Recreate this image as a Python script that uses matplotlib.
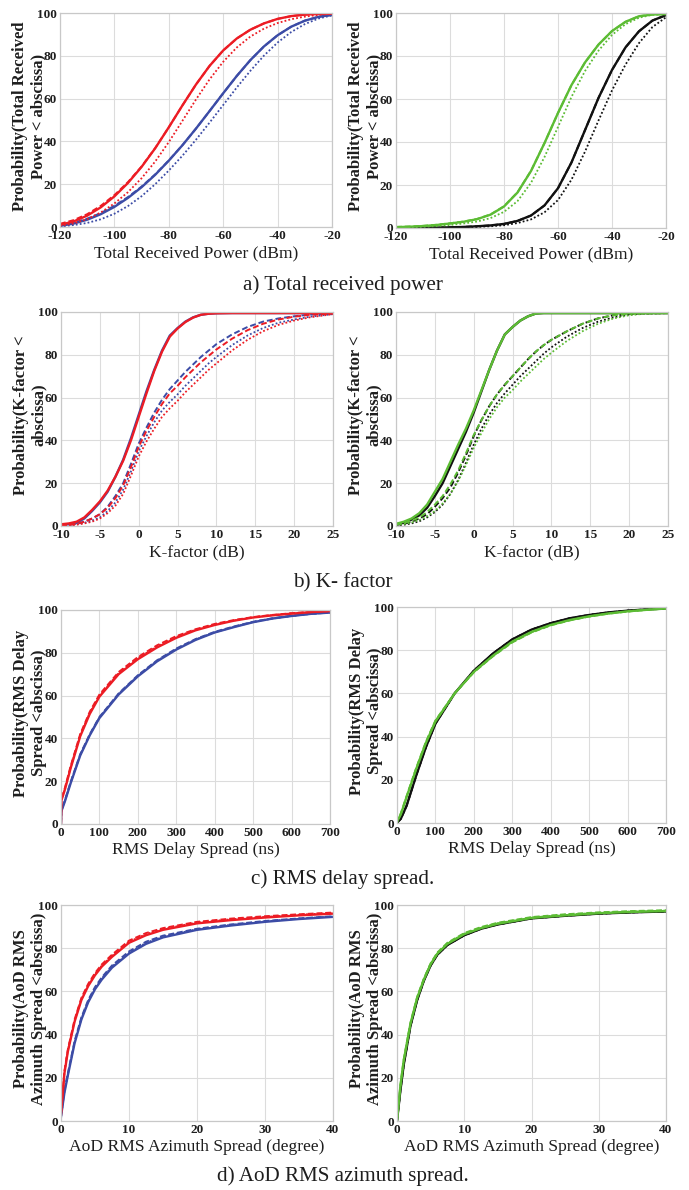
import matplotlib
matplotlib.use("Agg")
import matplotlib.pyplot as plt

plt.rcParams["axes.unicode_minus"] = False

# ---------------- data ----------------
# a) Total received power (dBm)
a_x = [-120, -115, -110, -105, -100, -95, -90, -85, -80, -75, -70, -65, -60, -55, -50, -45, -40, -35, -30, -25, -20]
a_red_solid  = [1.0, 2.6, 5.3, 9.2, 14.3, 20.6, 28.1, 36.8, 46.6, 56.8, 66.6, 75.3, 82.5, 88.1, 92.2, 95.15, 97.25, 98.55, 99.25, 99.57, 99.7]
a_red_dash   = [1.5, 3.2, 6.0, 9.9, 14.9, 21.0, 28.3, 36.9, 46.6, 56.8, 66.6, 75.3, 82.5, 88.1, 92.2, 95.15, 97.25, 98.55, 99.25, 99.57, 99.7]
a_red_dot    = [0.6, 1.7, 3.7, 6.8, 11.0, 16.3, 22.8, 30.6, 39.7, 49.6, 59.6, 69.0, 77.2, 83.9, 89.0, 92.7, 95.3, 97.1, 98.3, 99.1, 99.6]
a_blue_solid = [0.5, 1.6, 3.4, 6.0, 9.4, 13.6, 18.6, 24.4, 31.0, 38.2, 46.0, 54.2, 62.5, 70.6, 78.0, 84.4, 89.6, 93.6, 96.4, 98.2, 99.1]
a_blue_dash  = [0.8, 2.0, 3.9, 6.5, 9.9, 14.0, 18.9, 24.6, 31.1, 38.2, 46.0, 54.2, 62.5, 70.6, 78.0, 84.4, 89.6, 93.6, 96.4, 98.2, 99.1]
a_blue_dot   = [0.3, 0.9, 1.9, 3.6, 6.2, 9.8, 14.4, 20.0, 26.4, 33.3, 40.8, 48.8, 57.0, 65.2, 73.0, 80.1, 86.2, 91.1, 94.8, 97.4, 98.9]
a_green_solid = [0.4, 0.6, 0.9, 1.4, 2.1, 2.9, 4.1, 6.2, 10.0, 16.5, 26.5, 39.5, 53.5, 66.5, 77.0, 85.3, 91.6, 95.9, 98.5, 99.3, 99.5]
a_green_dash  = [0.5, 0.7, 1.0, 1.5, 2.2, 3.0, 4.2, 6.3, 10.1, 16.6, 26.6, 39.5, 53.5, 66.5, 77.0, 85.3, 91.6, 95.9, 98.5, 99.3, 99.5]
a_green_dot   = [0.3, 0.4, 0.6, 0.9, 1.4, 2.1, 3.0, 4.6, 7.5, 12.5, 21.0, 33.0, 47.0, 61.0, 73.0, 82.5, 89.8, 94.8, 97.8, 99.2, 99.5]
a_black_solid = [0.0, 0.1, 0.15, 0.2, 0.3, 0.5, 0.8, 1.2, 1.9, 3.3, 5.8, 10.5, 18.5, 30.5, 45.5, 60.5, 73.5, 84.0, 91.5, 96.5, 99.0]
a_black_dash  = [0.0, 0.1, 0.15, 0.2, 0.3, 0.5, 0.8, 1.2, 1.9, 3.3, 5.8, 10.5, 18.5, 30.5, 45.5, 60.5, 73.5, 84.0, 91.5, 96.5, 99.0]
a_black_dot   = [0.0, 0.05, 0.1, 0.15, 0.2, 0.3, 0.5, 0.8, 1.3, 2.3, 4.0, 7.3, 13.0, 22.5, 35.5, 50.0, 64.0, 76.0, 86.0, 93.5, 98.0]

# b) K-factor (dB)
b_x = [-10, -9, -8, -7, -6, -5, -4, -3, -2, -1, 0, 1, 2, 3, 4, 5, 6, 7, 8, 9, 10, 12, 14, 16, 18, 20, 22, 25]
b_blue_solid = [0.5, 0.8, 1.5, 3.5, 7.0, 11.0, 16.0, 23.0, 31.0, 41.0, 52.0, 63.0, 73.0, 82.0, 89.0, 92.5, 95.5, 97.5, 98.7, 99.2, 99.4, 99.5, 99.5, 99.5, 99.5, 99.5, 99.5, 99.5]
b_red_solid  = [0.8, 1.2, 2.0, 4.0, 7.5, 11.5, 16.5, 23.0, 30.5, 40.0, 51.0, 62.0, 72.5, 81.5, 88.5, 92.3, 95.3, 97.4, 98.7, 99.2, 99.4, 99.5, 99.5, 99.5, 99.5, 99.5, 99.5, 99.5]
b_blue_dash  = [0.3, 0.5, 1.0, 2.0, 3.5, 5.5, 9.0, 14.0, 20.0, 29.0, 38.5, 46.0, 53.0, 59.0, 64.0, 68.0, 72.0, 75.5, 79.0, 82.0, 85.0, 89.5, 93.0, 95.5, 97.0, 98.0, 98.8, 99.3]
b_red_dash   = [0.3, 0.5, 1.0, 2.0, 3.5, 5.5, 8.5, 13.0, 19.0, 27.5, 37.0, 44.5, 51.0, 57.0, 62.0, 65.5, 69.5, 73.0, 76.5, 79.5, 82.5, 87.5, 91.5, 94.5, 96.5, 97.8, 98.7, 99.3]
b_blue_dot   = [0.2, 0.4, 0.8, 1.5, 2.5, 4.0, 7.0, 11.0, 17.0, 25.5, 35.0, 42.0, 48.5, 54.0, 58.0, 61.5, 65.5, 69.0, 72.5, 76.0, 79.0, 84.5, 89.0, 92.5, 95.0, 96.5, 97.8, 99.0]
b_red_dot    = [0.2, 0.3, 0.6, 1.2, 2.0, 3.5, 6.0, 9.5, 15.0, 23.5, 32.5, 39.5, 45.5, 51.0, 55.0, 58.5, 62.5, 66.0, 69.5, 73.0, 76.0, 82.0, 87.0, 91.0, 94.0, 96.0, 97.5, 99.0]
b_black_solid = [0.8, 1.5, 3.0, 5.0, 8.5, 14.0, 20.0, 28.0, 36.0, 44.0, 53.0, 63.0, 73.0, 82.0, 89.5, 93.0, 96.0, 98.0, 99.3, 99.5, 99.5, 99.5, 99.5, 99.5, 99.5, 99.5, 99.5, 99.5]
b_green_solid = [1.0, 2.0, 3.5, 6.0, 10.0, 16.0, 22.0, 30.0, 38.0, 45.5, 54.0, 63.5, 73.0, 82.0, 89.5, 93.0, 96.0, 98.0, 99.3, 99.5, 99.5, 99.5, 99.5, 99.5, 99.5, 99.5, 99.5, 99.5]
b_black_dash  = [0.5, 1.0, 2.0, 3.5, 5.5, 9.0, 13.0, 18.0, 25.0, 33.0, 42.0, 49.5, 56.0, 61.5, 66.0, 70.0, 74.0, 78.0, 81.5, 84.5, 87.0, 91.0, 94.5, 97.0, 98.5, 99.2, 99.4, 99.5]
b_green_dash  = [0.7, 1.3, 2.5, 4.0, 6.5, 10.0, 14.0, 19.5, 26.0, 34.0, 42.5, 49.5, 56.0, 61.5, 66.0, 70.0, 74.0, 78.0, 81.5, 84.5, 87.0, 91.0, 94.5, 97.0, 98.5, 99.2, 99.4, 99.5]
b_black_dot   = [0.3, 0.6, 1.2, 2.2, 4.0, 6.5, 10.0, 15.0, 21.5, 29.5, 38.0, 45.5, 52.0, 57.5, 62.0, 66.0, 70.0, 73.5, 77.0, 80.5, 83.5, 88.5, 92.5, 95.5, 97.5, 98.8, 99.3, 99.5]
b_green_dot   = [0.5, 0.9, 1.6, 2.8, 4.5, 7.0, 10.5, 15.0, 21.0, 28.5, 36.5, 43.5, 50.0, 55.5, 60.0, 63.5, 67.5, 71.0, 74.5, 78.0, 81.0, 86.5, 91.0, 94.5, 97.0, 98.5, 99.2, 99.5]

# c) RMS delay spread (ns)
c_x = [0, 1, 10, 25, 50, 75, 100, 150, 200, 250, 300, 350, 400, 450, 500, 550, 600, 650, 700]
c_red_solid  = [0, 11.0, 16.0, 26.0, 41.0, 51.5, 59.5, 70.0, 77.0, 82.5, 87.0, 90.5, 93.0, 95.0, 96.5, 97.5, 98.3, 99.0, 99.5]
c_red_dash   = [0, 11.5, 16.8, 27.0, 42.0, 52.5, 60.5, 71.0, 78.0, 83.5, 87.8, 91.0, 93.5, 95.3, 96.7, 97.7, 98.5, 99.1, 99.5]
c_red_dot    = [0, 11.2, 16.4, 26.5, 41.5, 52.0, 60.0, 70.5, 77.5, 83.0, 87.4, 90.8, 93.2, 95.1, 96.6, 97.6, 98.4, 99.0, 99.5]
c_blue_solid = [0, 6.0, 10.5, 19.0, 32.0, 41.5, 49.5, 60.5, 69.0, 76.0, 81.5, 86.0, 89.5, 92.0, 94.3, 96.0, 97.2, 98.2, 98.8]
c_blue_dash  = [0, 6.3, 11.0, 19.6, 32.6, 42.0, 50.0, 61.0, 69.5, 76.5, 82.0, 86.4, 89.8, 92.3, 94.5, 96.1, 97.3, 98.2, 98.8]
c_blue_dot   = [0, 6.0, 10.7, 19.3, 32.3, 41.8, 49.8, 60.8, 69.3, 76.3, 81.8, 86.2, 89.6, 92.1, 94.4, 96.0, 97.2, 98.2, 98.8]
c_black_solid = [0, 0.3, 2.0, 8.0, 22.0, 35.0, 46.0, 60.0, 70.5, 78.5, 85.0, 89.5, 92.5, 94.8, 96.3, 97.5, 98.3, 98.9, 99.3]
c_green_solid = [0, 1.0, 4.0, 12.0, 25.0, 37.0, 47.0, 60.0, 70.0, 77.5, 84.0, 88.5, 91.7, 94.0, 95.7, 97.0, 98.0, 98.7, 99.3]
c_green_dash  = [0, 1.2, 4.5, 12.5, 25.5, 37.5, 47.5, 60.0, 69.8, 77.2, 83.6, 88.2, 91.5, 93.8, 95.6, 96.9, 97.9, 98.7, 99.3]
c_green_dot   = [0, 1.1, 4.2, 12.2, 25.2, 37.2, 47.2, 60.0, 69.9, 77.4, 83.8, 88.3, 91.6, 93.9, 95.6, 97.0, 97.9, 98.7, 99.3]

# d) AoD RMS azimuth spread (degree)
d_x = [0, 0.5, 1, 2, 3, 4, 5, 6, 7.5, 10, 12.5, 15, 20, 25, 30, 35, 40]
d_red_solid  = [3.0, 22.0, 32.0, 46.0, 56.0, 62.5, 67.5, 71.5, 76.0, 82.5, 86.0, 88.5, 91.5, 93.0, 94.2, 95.2, 96.0]
d_red_dash   = [3.0, 23.0, 33.0, 47.0, 57.0, 63.5, 68.5, 72.5, 77.0, 83.5, 87.0, 89.3, 92.2, 93.7, 94.8, 95.7, 96.5]
d_red_dot    = [3.0, 22.5, 32.5, 46.5, 56.5, 63.0, 68.0, 72.0, 76.5, 83.0, 86.5, 88.9, 91.9, 93.4, 94.5, 95.5, 96.3]
d_blue_solid = [2.0, 13.0, 21.0, 36.0, 47.0, 55.0, 61.0, 65.5, 71.0, 77.5, 82.0, 85.0, 88.5, 90.5, 92.2, 93.5, 94.5]
d_blue_dash  = [2.0, 14.0, 22.0, 37.0, 48.0, 56.0, 62.0, 66.5, 72.0, 78.5, 83.0, 85.8, 89.0, 91.0, 92.6, 93.8, 94.8]
d_blue_dot   = [2.0, 13.5, 21.5, 36.5, 47.5, 55.5, 61.5, 66.0, 71.5, 78.0, 82.5, 85.4, 88.8, 90.8, 92.4, 93.7, 94.7]
d_black_solid = [0.0, 14.0, 26.0, 44.0, 56.0, 65.0, 72.0, 77.0, 81.5, 86.0, 89.0, 91.0, 93.8, 95.0, 96.0, 96.6, 97.0]
d_green_solid = [0.0, 16.0, 28.0, 45.0, 57.0, 65.5, 72.5, 77.5, 82.0, 86.5, 89.3, 91.3, 94.0, 95.2, 96.2, 96.8, 97.2]
d_green_dash  = [0.0, 16.5, 28.5, 45.5, 57.5, 66.0, 73.0, 78.0, 82.5, 87.0, 89.8, 91.8, 94.4, 95.7, 96.6, 97.2, 97.6]
d_green_dot   = [0.0, 16.0, 28.0, 45.0, 57.0, 65.8, 72.8, 77.8, 82.3, 86.8, 89.6, 91.6, 94.2, 95.5, 96.4, 97.0, 97.4]

y_ticks = [0, 20, 40, 60, 80, 100]
a_ticks = [-120, -100, -80, -60, -40, -20]
b_ticks = [-10, -5, 0, 5, 10, 15, 20, 25]
c_ticks = [0, 100, 200, 300, 400, 500, 600, 700]
d_ticks = [0, 10, 20, 30, 40]

# ---------------- style ----------------
RED = "#ec1c24"
BLUE = "#3c4ca6"
GREEN = "#5cbc34"
BLACK = "#111111"
TXT = "#1e1e1e"
SERIF = ["Liberation Serif", "DejaVu Serif"]

W, H = 689, 1190
fig = plt.figure(figsize=(W / 100, H / 100), dpi=100)


def add_ax(x0, x1, ytop, ybot):
    return fig.add_axes([x0 / W, 1 - ybot / H, (x1 - x0) / W, (ybot - ytop) / H])


def style(ax, xlim, xticks, ylab, xlab, px_left, ytop, ybot):
    ax.set_xlim(*xlim)
    ax.set_ylim(0, 100)
    ax.set_xticks(xticks)
    ax.set_yticks(y_ticks)
    ax.grid(True, color="#dcdcdc", lw=0.8)
    ax.set_axisbelow(True)
    for s in ax.spines.values():
        s.set_color("#c8c8c8")
        s.set_linewidth(0.9)
    ax.tick_params(length=0, pad=2, labelsize=9.5)
    for lab in ax.get_xticklabels() + ax.get_yticklabels():
        lab.set_fontfamily(SERIF)
        lab.set_fontweight("bold")
        lab.set_color(TXT)
    ax.set_xlabel(xlab, fontfamily=SERIF, fontsize=12.6, labelpad=2.5, color=TXT)
    fig.text((px_left - 31) / W, 1 - ((ytop + ybot) / 2 - 4) / H, ylab, rotation=90,
             ha="center", va="center", multialignment="center",
             fontfamily=SERIF, fontsize=12, fontweight="bold",
             linespacing=1.15, color=TXT)


def draw(ax, x, solid, dash, dot, color):
    ax.plot(x, dot, color=color, lw=1.3, ls=(0, (1, 1.2)))
    ax.plot(x, dash, color=color, lw=1.4, ls=(0, (3, 1.5)))
    ax.plot(x, solid, color=color, lw=1.7, ls="-")


# Row a
ax = add_ax(60, 332, 13, 227)
draw(ax, a_x, a_blue_solid, a_blue_dash, a_blue_dot, BLUE)
draw(ax, a_x, a_red_solid, a_red_dash, a_red_dot, RED)
style(ax, (-120, -20), a_ticks, "Probability(Total Received\nPower < abscissa)",
      "Total Received Power (dBm)", 60, 13, 227)

ax = add_ax(396, 666, 13, 228)
draw(ax, a_x, a_black_solid, a_black_dash, a_black_dot, BLACK)
draw(ax, a_x, a_green_solid, a_green_dash, a_green_dot, GREEN)
style(ax, (-120, -20), a_ticks, "Probability(Total Received\nPower < abscissa)",
      "Total Received Power (dBm)", 396, 13, 228)

# Row b
ax = add_ax(61, 333, 312, 526)
draw(ax, b_x, b_blue_solid, b_blue_dash, b_blue_dot, BLUE)
draw(ax, b_x, b_red_solid, b_red_dash, b_red_dot, RED)
style(ax, (-10, 25), b_ticks, "Probability(K-factor <\nabscissa)", "K-factor (dB)", 61, 312, 526)

ax = add_ax(396, 668, 312, 526)
draw(ax, b_x, b_black_solid, b_black_dash, b_black_dot, BLACK)
draw(ax, b_x, b_green_solid, b_green_dash, b_green_dot, GREEN)
style(ax, (-10, 25), b_ticks, "Probability(K-factor <\nabscissa)", "K-factor (dB)", 396, 312, 526)

# Row c
ax = add_ax(61, 330, 610, 824)
draw(ax, c_x, c_blue_solid, c_blue_dash, c_blue_dot, BLUE)
draw(ax, c_x, c_red_solid, c_red_dash, c_red_dot, RED)
style(ax, (0, 700), c_ticks, "Probability(RMS Delay\nSpread <abscissa)",
      "RMS Delay Spread (ns)", 61, 610, 824)

ax = add_ax(397, 666, 607, 823)
draw(ax, c_x, c_black_solid, c_black_solid, c_black_solid, BLACK)
draw(ax, c_x, c_green_solid, c_green_dash, c_green_dot, GREEN)
style(ax, (0, 700), c_ticks, "Probability(RMS Delay\nSpread <abscissa)",
      "RMS Delay Spread (ns)", 397, 607, 823)

# Row d
ax = add_ax(61, 333, 905, 1121)
draw(ax, d_x, d_blue_solid, d_blue_dash, d_blue_dot, BLUE)
draw(ax, d_x, d_red_solid, d_red_dash, d_red_dot, RED)
style(ax, (0, 40), d_ticks, "Probability(AoD RMS\nAzimuth Spread <abscissa)",
      "AoD RMS Azimuth Spread (degree)", 61, 905, 1121)

ax = add_ax(397, 666, 905, 1121)
draw(ax, d_x, d_black_solid, d_black_solid, d_black_solid, BLACK)
draw(ax, d_x, d_green_solid, d_green_dash, d_green_dot, GREEN)
style(ax, (0, 40), d_ticks, "Probability(AoD RMS\nAzimuth Spread <abscissa)",
      "AoD RMS Azimuth Spread (degree)", 397, 905, 1121)

# Captions
captions = [("a) Total received power", 285), ("b) K- factor", 583),
            ("c) RMS delay spread.", 879), ("d) AoD RMS azimuth spread.", 1176)]
for txt, yp in captions:
    fig.text(343 / W, 1 - yp / H, txt, ha="center", va="center",
             fontfamily=SERIF, fontsize=15.2, color=TXT)

fig.savefig("out.png", dpi=100, facecolor="white")
